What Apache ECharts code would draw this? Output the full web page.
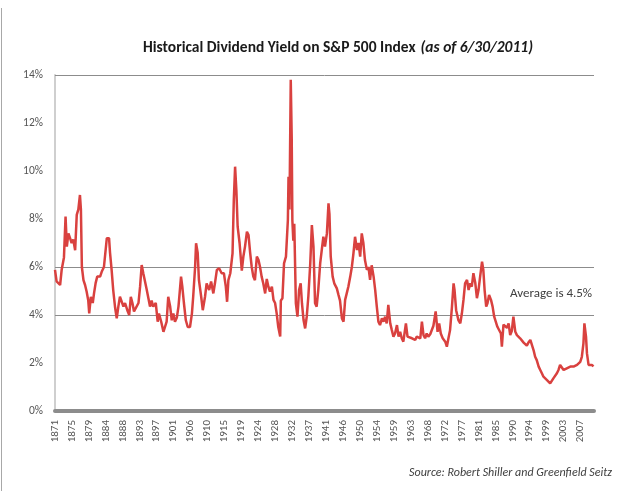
<!DOCTYPE html>
<html>
<head>
<meta charset="utf-8">
<script src="https://cdn.jsdelivr.net/npm/echarts@6/dist/echarts.min.js"></script>
<style>html,body{margin:0;padding:0;background:#fff}#c{width:625px;height:491px}</style>
</head>
<body>
<div id="c"></div>
<script>
// Decimal years and dividend yield in %
var dates = [
1871.00,1871.44,1871.86,1872.30,1872.75,1873.35,1873.79,1874.05,1874.47,1874.91,
1875.35,1875.77,1876.21,1876.66,1877.07,1877.52,1877.78,1877.96,1878.38,1878.82,
1879.26,1879.68,1879.94,1880.30,1880.83,1881.16,1881.61,1882.02,1882.73,1883.17,
1883.77,1884.47,1885.07,1885.33,1885.78,1886.19,1886.64,1887.08,1887.50,1887.94,
1888.38,1888.80,1889.24,1889.84,1890.36,1890.73,1891.15,1891.59,1892.11,1892.71,
1893.15,1893.60,1894.01,1894.33,1894.85,1895.37,1895.76,1896.20,1896.62,1897.24,
1897.77,1898.10,1898.63,1899.23,1899.67,1900.11,1900.53,1900.97,1901.41,1901.83,
1902.27,1902.72,1903.13,1903.84,1904.18,1904.62,1905.06,1905.58,1906.18,1906.63,
1907.04,1907.49,1907.75,1908.19,1908.53,1909.05,1909.49,1910.09,1910.54,1911.14,
1911.66,1912.26,1912.70,1913.14,1913.74,1914.45,1915.04,1915.49,1915.83,1916.17,
1916.69,1917.21,1917.57,1917.91,1918.25,1918.62,1919.08,1919.66,1920.08,1920.52,
1920.96,1921.38,1921.82,1922.26,1922.68,1923.12,1923.57,1923.98,1924.43,1924.87,
1925.29,1925.73,1926.17,1926.59,1927.03,1927.48,1927.89,1928.34,1928.78,1929.20,
1929.64,1929.82,1930.24,1930.68,1931.20,1931.65,1931.80,1932.06,1932.43,1932.69,
1932.85,1933.11,1933.37,1933.73,1934.15,1934.59,1935.03,1935.37,1935.71,1936.16,
1936.60,1937.02,1937.46,1937.90,1938.32,1938.76,1939.20,1939.62,1940.06,1940.51,
1940.92,1941.37,1941.81,1942.23,1942.49,1942.85,1943.37,1943.79,1944.42,1944.83,
1945.28,1945.72,1946.14,1946.58,1947.02,1947.44,1947.88,1948.33,1948.74,1949.19,
1949.63,1950.05,1950.49,1950.93,1951.35,1951.79,1952.24,1952.65,1953.10,1953.54,
1953.96,1954.40,1954.84,1955.26,1955.70,1956.15,1956.56,1957.00,1957.45,1957.87,
1958.31,1958.75,1959.17,1959.61,1960.05,1960.47,1960.91,1961.36,1961.77,1962.40,
1962.82,1963.26,1963.96,1964.38,1964.82,1965.27,1965.68,1966.13,1966.57,1966.99,
1967.43,1967.87,1968.29,1968.73,1969.18,1969.59,1970.17,1970.64,1971.08,1971.52,
1972.04,1972.64,1973.09,1973.50,1973.95,1974.39,1974.81,1975.07,1975.51,1976.11,
1976.55,1976.99,1977.41,1977.85,1978.30,1978.71,1979.16,1979.60,1980.02,1980.46,
1980.90,1981.32,1981.76,1982.21,1982.62,1982.88,1983.33,1983.67,1984.11,1984.55,
1984.97,1985.41,1985.86,1986.27,1986.72,1987.16,1987.42,1987.84,1988.28,1988.72,
1989.14,1989.58,1990.03,1990.44,1990.89,1991.33,1991.75,1992.19,1992.63,1993.05,
1993.49,1993.93,1994.35,1994.80,1995.24,1995.66,1996.10,1996.54,1996.96,1997.40,
1997.84,1998.26,1998.70,1999.15,1999.56,2000.01,2000.45,2000.87,2001.31,2001.75,
2002.17,2002.61,2003.06,2003.47,2003.92,2004.36,2005.22,2006.08,2006.97,2007.38,
2007.83,2008.27,2008.69,2008.95,2009.31,2009.57,2009.99,2010.43,2010.88,2011.29,
2011.42
];
var yields = [
5.88,5.40,5.35,5.25,5.90,6.40,8.10,6.85,7.40,7.20,
7.00,7.15,6.70,8.17,8.40,9.00,8.40,6.00,5.45,5.25,
4.97,4.60,4.07,4.76,4.50,4.90,5.33,5.60,5.60,5.80,
6.00,7.20,7.20,6.60,5.88,5.04,4.30,3.86,4.35,4.76,
4.80,4.35,4.50,4.20,4.00,4.76,4.50,4.15,4.10,4.50,
5.18,6.08,5.74,5.74,5.10,4.70,4.35,4.60,4.35,4.50,
3.72,4.06,3.72,3.30,3.25,3.72,4.76,4.35,3.78,4.06,
3.72,3.90,4.35,5.60,5.18,4.50,3.78,3.50,3.50,4.06,
4.76,6.00,6.99,6.60,5.45,4.76,4.20,4.76,5.32,5.04,
5.40,4.90,5.32,5.88,5.95,5.74,5.74,5.18,4.55,5.45,
5.74,6.57,8.80,10.18,9.20,7.68,7.00,5.85,6.45,6.85,
7.47,7.33,6.60,6.00,5.60,5.45,6.43,6.30,6.00,5.60,
5.32,4.90,5.50,5.18,4.98,5.18,4.63,4.50,4.07,3.50,
3.10,4.60,4.70,6.15,6.43,7.96,9.76,8.40,13.80,11.40,
7.96,7.10,7.80,4.49,3.93,5.04,5.32,4.49,3.79,3.44,
3.93,4.77,6.15,7.75,6.85,4.49,4.35,5.04,6.15,6.71,
7.26,6.85,7.40,8.65,8.20,6.43,5.60,5.32,5.11,4.85,
4.60,3.86,3.72,4.63,4.90,5.18,5.60,6.00,6.57,7.26,
6.71,7.00,6.43,7.40,7.00,6.29,5.88,6.00,5.46,6.07,
5.60,5.04,4.35,3.72,3.58,3.86,3.72,3.93,3.65,4.42,
3.65,3.37,3.10,3.23,3.58,3.10,3.30,3.03,2.89,3.65,
3.10,3.16,3.03,2.96,2.96,3.10,3.10,3.03,3.72,3.16,
3.03,3.23,3.10,3.20,3.20,3.55,4.15,3.30,3.65,3.23,
3.03,2.89,2.68,3.03,3.37,4.35,5.32,5.04,4.20,3.79,
3.65,4.07,4.63,5.32,5.46,5.04,5.32,5.18,5.74,5.32,
4.70,5.04,5.60,6.22,5.88,5.04,4.35,4.49,4.83,4.63,
4.35,3.93,4.00,3.51,3.44,3.23,2.68,3.60,3.55,3.47,
3.65,3.16,3.33,3.93,3.30,3.16,3.13,3.03,2.96,2.85,
2.85,2.72,2.85,2.96,2.89,2.54,2.26,2.12,1.85,1.71,
1.57,1.43,1.36,1.29,1.22,1.15,1.22,1.36,1.43,1.57,
1.71,1.92,1.85,1.71,1.78,1.78,1.85,1.85,1.92,1.85,
2.05,2.26,2.82,3.65,3.10,2.40,1.92,1.85,1.92,1.85,
1.90
];
var firstYear = 1871;
var lastMonth = 1685;          // June 2011, months after Jan 1871
var labelStepMonths = 53;      // category label spacing
var yTicks = [0, 2, 4, 6, 8, 10, 12, 14];
var refLines = [14, 6, 4];
var titleMain = 'Historical Dividend Yield on S&P 500 Index';
var titleSub = '(as of 6/30/2011)';
var avgNote = 'Average is 4.5%';
var sourceNote = 'Source: Robert Shiller and Greenfield Seitz';

var seriesData = dates.map(function (d, i) {
  return [Math.round((d - firstYear) * 12), yields[i]];
});

var chart = echarts.init(document.getElementById('c'), null, {renderer: 'canvas'});
var capFont = 'Carlito, Lato, "Open Sans", sans-serif';
chart.setOption({
  animation: false,
  backgroundColor: '#ffffff',
  title: {
    text: '{a|' + titleMain + '} {b|' + titleSub + '}',
    left: 138, top: 34,
    textStyle: {
      rich: {
        a: {fontFamily: capFont, fontSize: 15.5, fontWeight: 'bold', color: '#1a1a1a'},
        b: {fontFamily: capFont, fontSize: 15.5, fontWeight: 'bold', fontStyle: 'italic', color: '#1a1a1a'}
      }
    }
  },
  grid: {left: 55, right: 31, top: 75, bottom: 80, containLabel: false},
  xAxis: {
    type: 'value',
    min: 0, max: lastMonth, interval: labelStepMonths,
    axisLine: {show: true, onZero: false, lineStyle: {color: '#8c8c8c', width: 4}},
    axisTick: {show: false},
    splitLine: {show: false},
    axisLabel: {
      rotate: 90, fontSize: 11, color: '#555', margin: 9,
      fontFamily: capFont,
      showMaxLabel: false,
      formatter: function (v) {
        return v % labelStepMonths === 0 ? String(firstYear + Math.floor(v / 12)) : '';
      }
    }
  },
  yAxis: {
    type: 'value',
    min: yTicks[0], max: yTicks[yTicks.length - 1], interval: yTicks[1] - yTicks[0],
    axisLine: {show: true, lineStyle: {color: '#cfcfcf', width: 2}},
    axisTick: {show: false},
    splitLine: {show: false},
    axisLabel: {
      formatter: '{value}%', fontSize: 11.5, color: '#555', margin: 12,
      fontFamily: capFont
    }
  },
  series: [{
    type: 'line',
    data: seriesData,
    showSymbol: false,
    symbol: 'none',
    lineStyle: {color: '#d9413f', width: 2.5},
    z: 3,
    markLine: {
      silent: true,
      symbol: 'none',
      label: {show: false},
      lineStyle: {color: '#8c8c8c', width: 1, type: 'solid'},
      data: refLines.map(function (v) { return {yAxis: v}; }),
      z: 1
    }
  }],
  graphic: [
    {type: 'line', shape: {x1: 1.5, y1: 8, x2: 1.5, y2: 491}, style: {stroke: '#a8a8a8', lineWidth: 1}, silent: true},
    {type: 'text', left: 510, top: 287, style: {text: avgNote, font: '13px ' + capFont, fill: '#404040'}},
    {type: 'text', right: 13, top: 467, style: {text: sourceNote, font: 'italic 12px ' + capFont, fill: '#404040'}}
  ]
});
</script>
</body>
</html>
